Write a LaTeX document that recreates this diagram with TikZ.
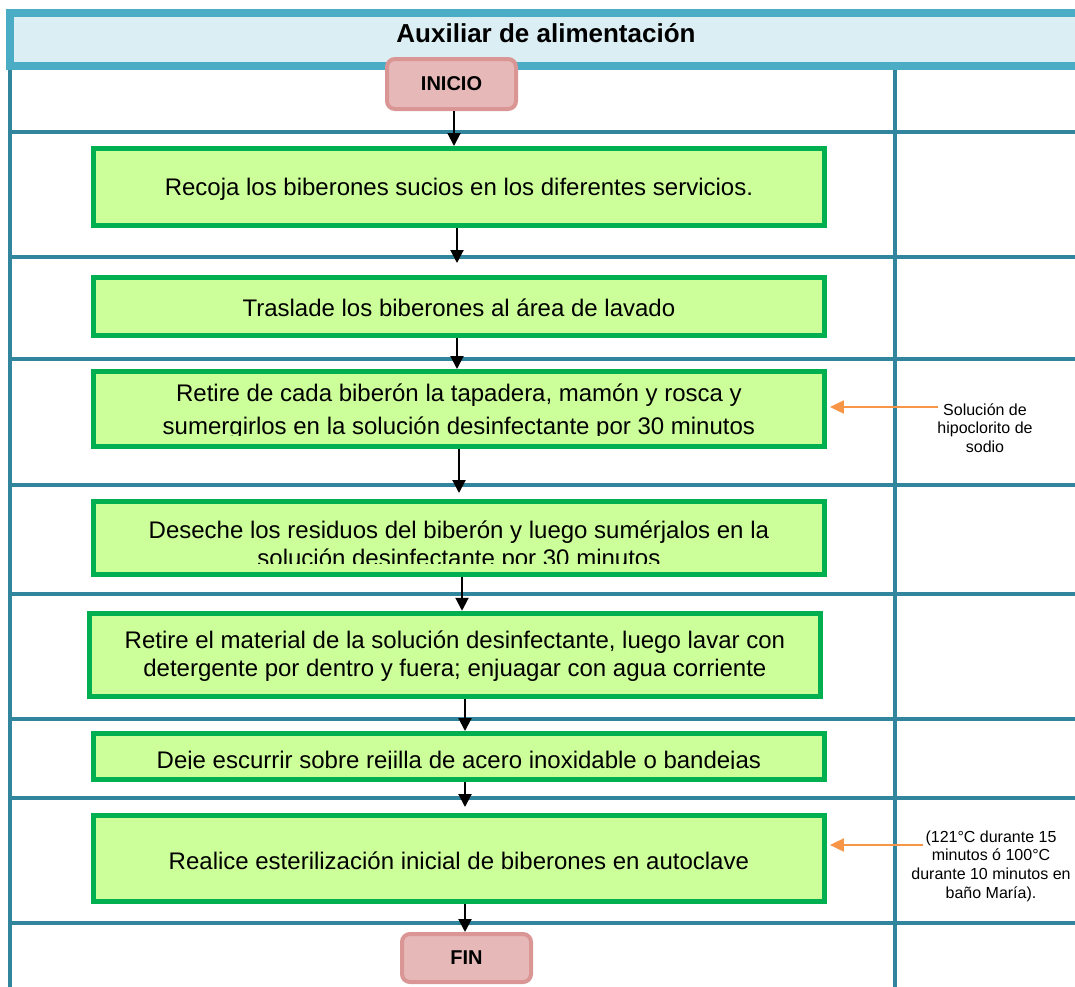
\documentclass[tikz,border=0pt]{standalone}
\usepackage{fontspec}
\setmainfont{Liberation Sans}
\usetikzlibrary{arrows.meta}
\definecolor{hdrB}{HTML}{4BACC6}
\definecolor{hdrF}{HTML}{DAEEF3}
\definecolor{laneC}{HTML}{31859C}
\definecolor{grnB}{HTML}{00B050}
\definecolor{grnF}{HTML}{CCFF99}
\definecolor{pinkF}{HTML}{E6B9B8}
\definecolor{pinkB}{HTML}{D99694}
\definecolor{orgC}{HTML}{F79646}
\begin{document}
\begin{tikzpicture}[x=1pt,y=-1pt,
  lane/.style={draw=laneC, line width=3.5pt},
  gbox/.style={draw=grnB, fill=grnF, line width=5pt, minimum width=731pt, inner sep=0pt, rectangle},
  termbox/.style={draw=pinkB, fill=pinkF, line width=4pt, rounded corners=8pt, minimum width=129pt, inner sep=0pt, font=\fontsize{20}{24}\selectfont\bfseries},
  btext/.style={align=center, inner sep=0pt, font=\fontsize{24}{28}\selectfont},
  stext/.style={align=center, inner sep=0pt, font=\fontsize{16}{18.7}\selectfont},
  arr/.style={draw=black, line width=2pt, -{Triangle[length=13pt,width=13pt]}},
  oarr/.style={draw=orgC, line width=2pt, -{Triangle[length=14pt,width=13pt]}}
]
\useasboundingbox (0,0) rectangle (1075,986);
\clip (0,0) rectangle (1075,986);
\fill[white] (0,0) rectangle (1075,986);

% swimlane grid
\draw[lane] (10,60) -- (10,995);
\draw[lane] (895,60) -- (895,995);
\foreach \yy in {132,257,359,485,594,719,798,923} {
  \draw[lane] (10,\yy) -- (1085,\yy);
}

% header
\draw[draw=hdrB, fill=hdrF, line width=8pt] (10,13) rectangle (1095,65.5);
\node[inner sep=0pt, font=\fontsize{26}{30}\selectfont\bfseries] (title) at (546,33) {Auxiliar de alimentación};

% terminals
\node[termbox, minimum height=50pt] (ini) at (451.5,84) {INICIO};
\node[termbox, minimum height=48pt] (fin) at (466.5,958) {FIN};

% process boxes
\node[gbox, minimum height=77pt] (b1) at (458.9,187) {};
\node[gbox, minimum height=58pt] (b2) at (458.9,306.5) {};
\node[gbox, minimum height=75pt] (b3) at (458.9,409) {};
\node[gbox, minimum height=73pt] (b4) at (458.9,538) {};
\node[gbox, minimum height=83.3pt] (b5) at (454.9,654.9) {};
\node[gbox, minimum height=46pt] (b6) at (458.9,756.5) {};
\node[gbox, minimum height=86pt] (b7) at (458.9,858.5) {};

% texts (clipped to the boxes)
\node[btext] (t1) at ([yshift=-2pt]b1.center) {Recoja los biberones sucios en los diferentes servicios.};
\node[btext] (t2) at ([yshift=-1pt]b2.center) {Traslade los biberones al área de lavado};
\begin{scope}
  \clip (95,371) rectangle (823,435);
  \node[btext, font=\fontsize{24}{33}\selectfont] (t3) at ([yshift=-3pt]b3.center) {Retire de cada biberón la tapadera, mamón y rosca y\\ sumergirlos en la solución desinfectante por 30 minutos};
\end{scope}
\begin{scope}
  \clip (95,503) rectangle (823,563);
  \node[btext] (t4) at ([yshift=-8pt]b4.center) {Deseche los residuos del biberón y luego sumérjalos en la\\ solución desinfectante por 30 minutos};
\end{scope}
\node[btext] (t5) at ([yshift=-1pt]b5.center) {Retire el material de la solución desinfectante, luego lavar con\\ detergente por dentro y fuera; enjuagar con agua corriente};
\begin{scope}
  \clip (95,733) rectangle (823,768);
  \node[btext] (t6) at ([yshift=-6pt]b6.center) {Deje escurrir sobre rejilla de acero inoxidable o bandejas};
\end{scope}
\node[btext] (t7) at ([yshift=-2pt]b7.center) {Realice esterilización inicial de biberones en autoclave};

% side notes
\node[stext] (s1) at (985,428) {Solución de\\ hipoclorito de\\ sodio};
\node[stext] (s2) at (991,866) {(121°C durante 15\\ minutos ó 100°C\\ durante 10 minutos en\\ baño María).};

% flow arrows
\coordinate (xa) at (454,0);
\coordinate (xb) at (457,0);
\coordinate (xc) at (459,0);
\coordinate (xd) at (462,0);
\coordinate (xe) at (465,0);
\draw[arr] (ini.south -| xa) -- (b1.north -| xa);
\draw[arr, shorten >=12pt] (b1.south -| xb) -- (b2.north -| xb);
\draw[arr] (b2.south -| xb) -- (b3.north -| xb);
\draw[arr, shorten >=6pt] (b3.south -| xc) -- (b4.north -| xc);
\draw[arr] (b4.south -| xd) -- (b5.north -| xd);
\draw[arr] (b5.south -| xe) -- (b6.north -| xe);
\draw[arr, shorten >=6pt] (b6.south -| xe) -- (b7.north -| xe);
\draw[arr] (b7.south -| xe) -- (fin.north -| xe);

% orange arrows
\coordinate (o1) at (938,407);
\coordinate (o2) at (923,845);
\draw[oarr, shorten >=3pt] (o1) -- (b3.east |- o1);
\draw[oarr, shorten >=3pt] (o2) -- (b7.east |- o2);
\end{tikzpicture}
\end{document}
